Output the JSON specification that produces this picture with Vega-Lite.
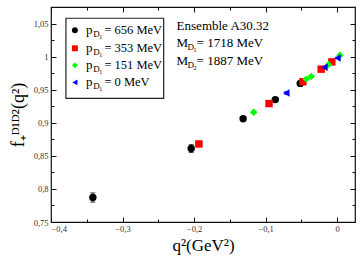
{
  "$schema": "https://vega.github.io/schema/vega-lite/v6.json",
  "width": 304,
  "height": 215,
  "autosize": {"type": "none"},
  "padding": {"left": 51, "top": 7, "right": 8, "bottom": 41},
  "background": "white",
  "config": {
    "view": {"stroke": "#111", "strokeWidth": 1.2},
    "axis": {"grid": false, "domain": false, "zindex": 1, "labelFont": "Liberation Serif", "labelFontSize": 8.5, "labelColor": "#333", "tickColor": "#111", "tickWidth": 1, "titleFont": "Liberation Serif", "titleFontWeight": "normal", "titleColor": "black"}
  },
  "datasets": {
    "pts": [
      {"series": "656", "q2": -0.3415, "f": 0.787, "lo": 0.780, "hi": 0.794},
      {"series": "656", "q2": -0.204, "f": 0.861, "lo": 0.855, "hi": 0.867},
      {"series": "656", "q2": -0.1314, "f": 0.906, "lo": 0.903, "hi": 0.909},
      {"series": "656", "q2": -0.0864, "f": 0.935, "lo": 0.933, "hi": 0.937},
      {"series": "656", "q2": -0.0516, "f": 0.9595, "lo": 0.958, "hi": 0.961},
      {"series": "353", "q2": -0.1933, "f": 0.868, "lo": 0.865, "hi": 0.871},
      {"series": "353", "q2": -0.0952, "f": 0.929, "lo": 0.927, "hi": 0.931},
      {"series": "353", "q2": -0.0478, "f": 0.962, "lo": 0.961, "hi": 0.963},
      {"series": "353", "q2": -0.0223, "f": 0.981, "lo": 0.980, "hi": 0.982},
      {"series": "353", "q2": -0.0074, "f": 0.992, "lo": 0.991, "hi": 0.993},
      {"series": "151", "q2": -0.1166, "f": 0.916, "lo": 0.914, "hi": 0.918},
      {"series": "151", "q2": -0.0432, "f": 0.966, "lo": 0.965, "hi": 0.967},
      {"series": "151", "q2": -0.0362, "f": 0.970, "lo": 0.969, "hi": 0.971},
      {"series": "151", "q2": -0.0121, "f": 0.988, "lo": 0.987, "hi": 0.989},
      {"series": "151", "q2": 0.004, "f": 1.002, "lo": 1.001, "hi": 1.003},
      {"series": "0", "q2": -0.0711, "f": 0.945, "lo": 0.943, "hi": 0.947},
      {"series": "0", "q2": -0.0177, "f": 0.984, "lo": 0.983, "hi": 0.985},
      {"series": "0", "q2": 0.0005, "f": 0.998, "lo": 0.997, "hi": 0.999}
    ],
    "legend": [
      {"series": "656", "sx": -0.3666, "tx": -0.3512, "ly": 1.0398, "label": "= 656 MeV"},
      {"series": "353", "sx": -0.3666, "tx": -0.3512, "ly": 1.0126, "label": "= 353 MeV"},
      {"series": "151", "sx": -0.3666, "tx": -0.3512, "ly": 0.9868, "label": "= 151 MeV"},
      {"series": "0", "sx": -0.3666, "tx": -0.3512, "ly": 0.961, "label": "= 0 MeV"}
    ],
    "box": [{"x1": -0.3791, "x2": -0.2425, "y1": 1.058, "y2": 0.9368}],
    "ann": [
      {"ax": -0.2244, "ay": 1.0459, "main": "Ensemble A30.32", "sub": "", "subsub": "", "rest": ""},
      {"ax": -0.2244, "ay": 1.0202, "main": "M", "sub": "D", "subsub": "1", "rest": "= 1718 MeV"},
      {"ax": -0.2244, "ay": 0.9929, "main": "M", "sub": "D", "subsub": "2", "rest": "= 1887 MeV"}
    ]
  },
  "resolve": {"axis": {"x": "independent", "y": "independent"}},
  "layer": [
    {
      "data": {"name": "box"},
      "mark": {"type": "rect", "fill": "white", "stroke": "#222", "strokeWidth": 1.2},
      "encoding": {
        "x": {"field": "x1", "type": "quantitative", "scale": {"domain": [-0.4, 0.025], "nice": false, "zero": false},
          "axis": {"orient": "bottom", "values": [-0.4, -0.3, -0.2, -0.1, 0], "tickSize": -5, "labelPadding": 7, "labelExpr": "replace(format(datum.value, '.1~f'), '.', ',')", "title": "q²(GeV²)", "titleFontSize": 17, "titlePadding": 5}},
        "x2": {"field": "x2"},
        "y": {"field": "y1", "type": "quantitative", "scale": {"domain": [0.75, 1.075], "nice": false, "zero": false},
          "axis": {"orient": "left", "values": [0.75, 0.8, 0.85, 0.9, 0.95, 1, 1.05], "tickSize": -5, "labelPadding": 8, "labelExpr": "replace(format(datum.value, '.2~f'), '.', ',')", "title": "f₊ᴰ¹ᴰ²(q²)", "titleFontSize": 18, "titlePadding": 6}},
        "y2": {"field": "y2"}
      }
    },
    {
      "data": {"name": "pts"},
      "mark": {"type": "errorbar", "ticks": {"size": 5}, "thickness": 1},
      "encoding": {
        "x": {"field": "q2", "type": "quantitative", "axis": {"orient": "bottom", "values": [-0.35, -0.25, -0.15, -0.05], "tickSize": -3, "labels": false, "title": null}},
        "y": {"field": "lo", "type": "quantitative", "axis": {"orient": "left", "values": [0.775, 0.825, 0.875, 0.925, 0.975, 1.025], "tickSize": -3, "labels": false, "title": null}},
        "y2": {"field": "hi"},
        "color": {"field": "series", "type": "nominal", "scale": {"domain": ["656", "353", "151", "0"], "range": ["#000000", "#ff0000", "#00ff00", "#0000ff"]}, "legend": null}
      }
    },
    {
      "data": {"name": "pts"},
      "mark": {"type": "point", "filled": true, "opacity": 1},
      "encoding": {
        "x": {"field": "q2", "type": "quantitative", "axis": {"orient": "top", "values": [-0.4, -0.3, -0.2, -0.1, 0], "tickSize": -5, "labels": false, "title": null}},
        "y": {"field": "f", "type": "quantitative", "axis": {"orient": "right", "values": [0.75, 0.8, 0.85, 0.9, 0.95, 1, 1.05], "tickSize": -5, "labels": false, "title": null}},
        "color": {"field": "series", "type": "nominal", "legend": null},
        "shape": {"field": "series", "type": "nominal", "scale": {"domain": ["656", "353", "151", "0"], "range": ["circle", "square", "diamond", "triangle-left"]}, "legend": null},
        "size": {"value": 55}
      }
    },
    {
      "data": {"name": "legend"},
      "mark": {"type": "point", "filled": true, "opacity": 1},
      "encoding": {
        "x": {"field": "sx", "type": "quantitative", "axis": {"orient": "top", "values": [-0.35, -0.25, -0.15, -0.05], "tickSize": -3, "labels": false, "title": null}},
        "y": {"field": "ly", "type": "quantitative", "axis": {"orient": "right", "values": [0.775, 0.825, 0.875, 0.925, 0.975, 1.025], "tickSize": -3, "labels": false, "title": null}},
        "color": {"field": "series", "type": "nominal", "legend": null},
        "shape": {"field": "series", "type": "nominal", "legend": null},
        "size": {"value": 35}
      }
    },
    {
      "data": {"name": "legend"},
      "mark": {"type": "text", "align": "left", "baseline": "middle", "font": "Liberation Serif", "fontSize": 13, "color": "black"},
      "encoding": {
        "x": {"field": "tx", "type": "quantitative", "axis": null},
        "y": {"field": "ly", "type": "quantitative", "axis": null},
        "text": {"value": "p"}
      }
    },
    {
      "data": {"name": "legend"},
      "mark": {"type": "text", "align": "left", "baseline": "middle", "font": "Liberation Serif", "fontSize": 9, "color": "black", "dx": 7.3, "dy": 4},
      "encoding": {
        "x": {"field": "tx", "type": "quantitative", "axis": null},
        "y": {"field": "ly", "type": "quantitative", "axis": null},
        "text": {"value": "D"}
      }
    },
    {
      "data": {"name": "legend"},
      "mark": {"type": "text", "align": "left", "baseline": "middle", "font": "Liberation Serif", "fontSize": 6, "color": "black", "dx": 13.3, "dy": 6.5},
      "encoding": {
        "x": {"field": "tx", "type": "quantitative", "axis": null},
        "y": {"field": "ly", "type": "quantitative", "axis": null},
        "text": {"value": "1"}
      }
    },
    {
      "data": {"name": "legend"},
      "mark": {"type": "text", "align": "left", "baseline": "middle", "font": "Liberation Serif", "fontSize": 12.5, "color": "black", "dx": 18.5},
      "encoding": {
        "x": {"field": "tx", "type": "quantitative", "axis": null},
        "y": {"field": "ly", "type": "quantitative", "axis": null},
        "text": {"field": "label"}
      }
    },
    {
      "data": {"name": "ann"},
      "mark": {"type": "text", "align": "left", "baseline": "middle", "font": "Liberation Serif", "fontSize": 13, "color": "black"},
      "encoding": {
        "x": {"field": "ax", "type": "quantitative", "axis": null},
        "y": {"field": "ay", "type": "quantitative", "axis": null},
        "text": {"field": "main"}
      }
    },
    {
      "data": {"name": "ann"},
      "mark": {"type": "text", "align": "left", "baseline": "middle", "font": "Liberation Serif", "fontSize": 9, "color": "black", "dx": 11, "dy": 4},
      "encoding": {
        "x": {"field": "ax", "type": "quantitative", "axis": null},
        "y": {"field": "ay", "type": "quantitative", "axis": null},
        "text": {"field": "sub"}
      }
    },
    {
      "data": {"name": "ann"},
      "mark": {"type": "text", "align": "left", "baseline": "middle", "font": "Liberation Serif", "fontSize": 6, "color": "black", "dx": 17, "dy": 6.5},
      "encoding": {
        "x": {"field": "ax", "type": "quantitative", "axis": null},
        "y": {"field": "ay", "type": "quantitative", "axis": null},
        "text": {"field": "subsub"}
      }
    },
    {
      "data": {"name": "ann"},
      "mark": {"type": "text", "align": "left", "baseline": "middle", "font": "Liberation Serif", "fontSize": 13, "color": "black", "dx": 20},
      "encoding": {
        "x": {"field": "ax", "type": "quantitative", "axis": null},
        "y": {"field": "ay", "type": "quantitative", "axis": null},
        "text": {"field": "rest"}
      }
    }
  ]
}
